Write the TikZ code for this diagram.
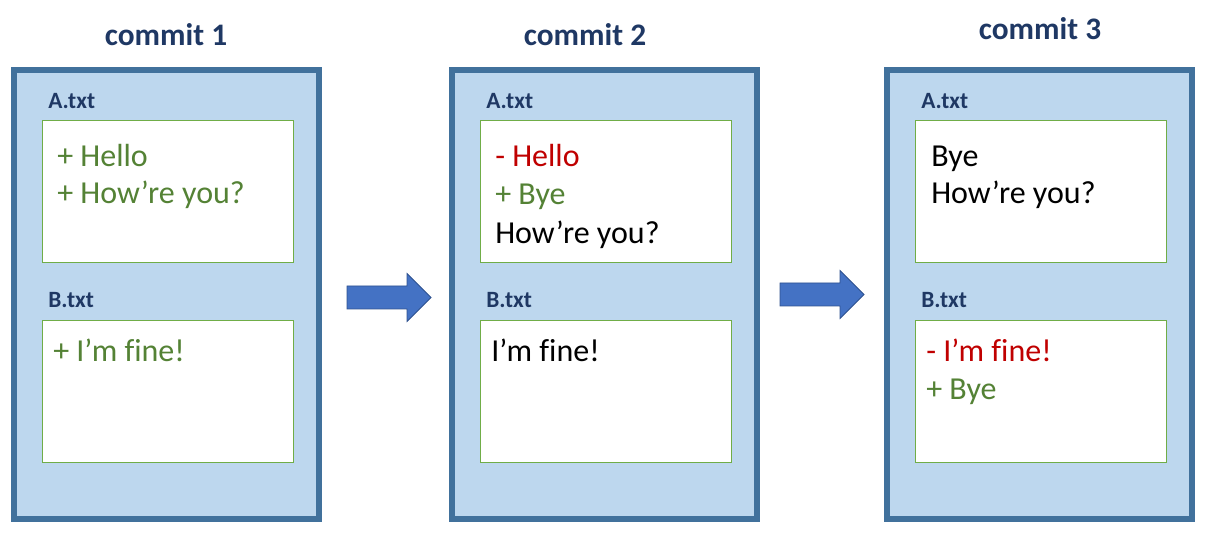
\documentclass[tikz,border=0pt]{standalone}
\usepackage{fontspec}
\setmainfont{Carlito}[Ligatures={TeX,NoCommon}]
\definecolor{titleblue}{HTML}{1F3864}
\definecolor{panelblue}{HTML}{41719C}
\definecolor{panelfill}{HTML}{BDD7EE}
\definecolor{boxgreen}{HTML}{70AD47}
\definecolor{addgreen}{HTML}{548235}
\definecolor{delred}{HTML}{C00000}
\definecolor{arrowfill}{HTML}{4472C4}
\definecolor{arrowdraw}{HTML}{2F528F}
\tikzset{
	panel/.style={draw=panelblue, fill=panelfill, line width=4.5pt, inner sep=0pt,
		minimum width=228.75pt, minimum height=336.75pt},
	filebox/.style={draw=boxgreen, fill=white, line width=0.75pt, inner sep=0pt,
		minimum width=188.25pt, minimum height=106.5pt},
	committitle/.style={anchor=base, inner sep=0pt, text=titleblue,
		font=\fontsize{23.5}{28}\selectfont\bfseries},
	filename/.style={anchor=base west, inner sep=0pt, text=titleblue,
		font=\fontsize{17.5}{21}\selectfont\bfseries},
	diffline/.style={anchor=base west, inner sep=0pt,
		font=\fontsize{24}{28}\selectfont},
	added/.style={text=addgreen},
	removed/.style={text=delred},
	kept/.style={text=black},
	arrowshape/.style={fill=arrowfill, draw=arrowdraw, line width=0.6pt}
}
\newcommand{\commitpanel}[4] % left x in px, name, title, title position
{
	% frame and title
	\node[panel] (#2) at (#1+152.5,294.5) {};
	\node[committitle] (#2-title) at #4 {#3};
	% the two files
	\node[filename] (#2-aname) at (#1+34,109) {A.txt};
	\node[filebox] (#2-a) at (#1+153.5,192) {};
	\node[filename] (#2-bname) at (#1+34,308) {B.txt};
	\node[filebox] (#2-b) at (#1+153.5,391.5) {};
}
\newcommand{\nextarrow}[2] % tail x in px, middle y in px
{
	\draw[arrowshape] (#1,#2-11.5) -- (#1+60,#2-11.5) -- (#1+60,#2-24)
		-- (#1+84,#2) -- (#1+60,#2+24) -- (#1+60,#2+11.5) -- (#1,#2+11.5) -- cycle;
}
\begin{document}
\begin{tikzpicture}[x=0.75pt,y=-0.75pt]
	% canvas in px: 1228 x 538
	\useasboundingbox (0,0) rectangle (1228,538);
	
	\commitpanel{14}{c1}{commit 1}{(166,46)};
	\commitpanel{452}{c2}{commit 2}{(585,46)};
	\commitpanel{887}{c3}{commit 3}{(1040,40)};
	
	% commit 1
	\node[diffline, added] (c1-a1) at (57,167) {+ Hello};
	\node[diffline, added] (c1-a2) at (57,204) {+ How’re you?};
	\node[diffline, added] (c1-b1) at (53,361) {+ I’m fine!};
	
	% commit 2
	\node[diffline, removed] (c2-a1) at (495,167) {- Hello};
	\node[diffline, added] (c2-a2) at (495,205) {+ Bye};
	\node[diffline, kept] (c2-a3) at (495,244) {How’re you?};
	\node[diffline, kept] (c2-b1) at (491,361) {I’m fine!};
	
	% commit 3
	\node[diffline, kept] (c3-a1) at (931,167) {Bye};
	\node[diffline, kept] (c3-a2) at (931,204) {How’re you?};
	\node[diffline, removed] (c3-b1) at (926,361) {- I’m fine!};
	\node[diffline, added] (c3-b2) at (926,399) {+ Bye};
	
	\nextarrow{347}{297.5};
	\nextarrow{780}{294.5};
	
\end{tikzpicture}
\end{document}
